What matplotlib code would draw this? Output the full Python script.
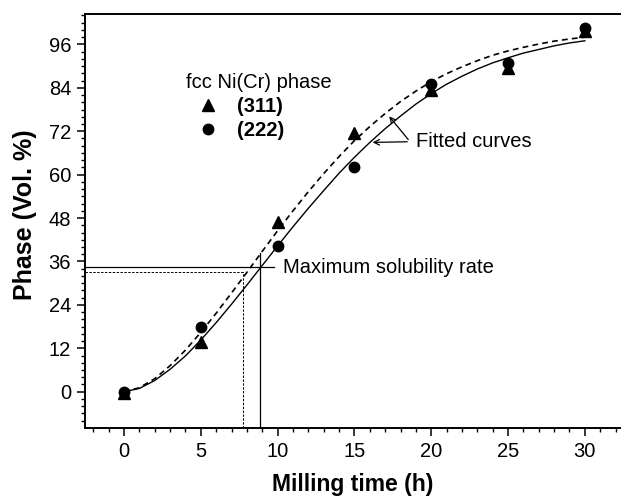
import matplotlib
matplotlib.use("Agg")
import matplotlib.pyplot as plt
from matplotlib.lines import Line2D
from matplotlib.ticker import MultipleLocator

plt.rcParams['font.family'] = ['Liberation Sans', 'DejaVu Sans']

# measured points
time_h = [0, 5, 10, 15, 20, 25, 30]
phase_311 = [-0.3, 13.8, 46.8, 71.6, 83.4, 89.6, 99.8]
phase_222 = [0.0, 17.8, 40.4, 62.2, 85.0, 90.8, 100.6]

# fitted curves, every 1 h
fit_t = list(range(0, 31))
fit_solid = [0.0, 0.9, 3.1, 6.2, 9.9, 14.3, 19.1, 24.2, 29.5, 34.9, 40.3,
             45.6, 50.7, 55.6, 60.4, 64.8, 68.9, 72.7, 76.2, 79.5, 82.4,
             85.0, 87.2, 89.2, 90.9, 92.3, 93.6, 94.6, 95.6, 96.4, 97.0]
fit_dashed = [0.0, 1.1, 3.6, 7.2, 11.5, 16.4, 21.7, 27.3, 33.0, 38.8, 44.5,
              50.0, 55.3, 60.3, 65.0, 69.4, 73.3, 76.9, 80.2, 83.1, 85.7,
              87.9, 89.8, 91.5, 93.0, 94.2, 95.2, 96.1, 96.9, 97.5, 98.0]

# maximum solubility marks (x, y)
max_solid = (8.85, 34.4)
max_dashed = (7.75, 33.0)

fs = 14.5

fig = plt.figure(figsize=(6.21, 4.99), dpi=100)
ax = fig.add_axes([0.1369, 0.1429, 0.8615, 0.8290])

xmin, xmax = -2.54, 32.29
ymin, ymax = -9.95, 104.4

ax.plot(fit_t, fit_solid, color='black', lw=1.0)
ax.plot(fit_t, fit_dashed, color='black', lw=1.2, linestyle=(0, (3.5, 2.5)))

ax.plot(time_h, phase_311, linestyle='none', marker='^', color='black', markersize=9)
ax.plot(time_h, phase_222, linestyle='none', marker='o', color='black', markersize=7.5)

# drop lines
ax.plot([xmin, 9.77], [max_solid[1], max_solid[1]], color='black', lw=0.9)
ax.plot([max_solid[0], max_solid[0]], [ymin, 38.3], color='black', lw=0.9)
ax.plot([xmin, max_dashed[0]], [max_dashed[1], max_dashed[1]], color='black', lw=0.7,
        linestyle=(0, (2.5, 1.5)))
ax.plot([max_dashed[0], max_dashed[0]], [ymin, max_dashed[1]], color='black', lw=0.7,
        linestyle=(0, (2.5, 1.5)))

ax.text(10.37, 34.4, 'Maximum solubility rate', fontsize=fs, va='center', ha='left')

ax.text(19.0, 69.1, 'Fitted curves', fontsize=fs, va='center', ha='left')
ax.annotate('', xy=(16.0, 68.9), xytext=(18.62, 69.1),
            arrowprops=dict(arrowstyle='->', lw=0.9, color='black'))
ax.annotate('', xy=(17.15, 76.7), xytext=(18.62, 69.1),
            arrowprops=dict(arrowstyle='->', lw=0.9, color='black'))

handles = [Line2D([], [], linestyle='none', marker='^', color='black', markersize=8.5),
           Line2D([], [], linestyle='none', marker='o', color='black', markersize=7.5)]
leg = ax.legend(handles, ['(311)', '(222)'], title='fcc Ni(Cr) phase', frameon=False,
                loc='upper left', bbox_to_anchor=(0.189, 0.857),
                prop={'weight': 'bold', 'size': fs}, title_fontsize=fs,
                handlelength=2.2, handletextpad=0.35, labelspacing=0.24,
                borderaxespad=0, borderpad=0, alignment='left')

ax.set_xlim(xmin, xmax)
ax.set_ylim(ymin, ymax)
ax.set_xticks([0, 5, 10, 15, 20, 25, 30])
ax.set_yticks([0, 12, 24, 36, 48, 60, 72, 84, 96])
ax.xaxis.set_minor_locator(MultipleLocator(1))
ax.yaxis.set_minor_locator(MultipleLocator(2))
ax.tick_params(which='major', direction='out', length=6, width=1.1, labelsize=fs, pad=4)
ax.tick_params(which='minor', direction='out', length=3, width=1.0)
ax.tick_params(top=False, right=False, which='both')

for side in ['left', 'bottom', 'top']:
    ax.spines[side].set_linewidth(1.4)
ax.spines['right'].set_visible(False)

ax.set_xlabel('Milling time (h)', fontsize=16.5, fontweight='bold', labelpad=9)
ax.set_ylabel('Phase (Vol. %)', fontsize=18, fontweight='bold')
ax.yaxis.set_label_coords(-0.089, 0.514)

fig.savefig('out.png', dpi=100)
